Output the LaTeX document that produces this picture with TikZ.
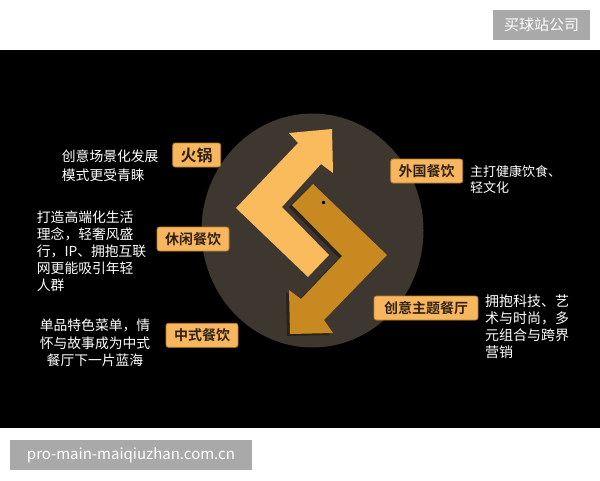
\documentclass[tikz,border=0pt]{standalone}
\usepackage{fontspec}
\newfontfamily\cjk{Noto Sans CJK SC}[BoldFont={Noto Sans CJK SC Bold}]
\definecolor{circ}{RGB}{62,55,48}
\definecolor{lightarr}{RGB}{249,187,92}
\definecolor{darkarr}{RGB}{200,138,32}
\definecolor{shad}{RGB}{40,34,28}
\definecolor{lbl}{RGB}{248,183,94}
\definecolor{lbldraw}{RGB}{185,125,48}
\definecolor{lbltext}{RGB}{48,34,20}
\definecolor{wm}{RGB}{169,169,169}
\tikzset{
  lab/.style={draw=lbldraw, line width=0.8pt, fill=lbl, rounded corners=2.5pt,
    text=lbltext, font=\cjk\bfseries\fontsize{14}{14}\selectfont,
    minimum height=24pt, inner sep=0pt},
  desc/.style={text=white, inner sep=0pt, align=left, anchor=north west},
  wmark/.style={fill=wm, text=white, inner sep=0pt, minimum height=30pt,
    font=\cjk\fontsize{15}{15}\selectfont}
}
\begin{document}
\begin{tikzpicture}[x=1pt,y=-1pt]
\useasboundingbox (0,0) rectangle (600,480);
\fill[white] (0,0) rectangle (600,480);
\fill[black] (0,50) rectangle (600,428);
\fill[circ] (312.5,230.5) ellipse [x radius=111pt, y radius=117pt];
% light arrow
\fill[lightarr] (308,277) -- (236,208) -- (298,143) -- (289,133) -- (332,129)
  -- (333,173) -- (321,164) -- (282,207) -- (329,255) -- cycle;
% dark arrow shadow
\fill[shad, shift={(-3pt,-2pt)}] (292,205) -- (313,184) -- (387,255) -- (324,320)
  -- (333,333) -- (290,334) -- (289,290) -- (301,299) -- (342,256) -- cycle;
% dark arrow
\fill[darkarr] (292,205) -- (313,184) -- (387,255) -- (324,320) -- (333,333)
  -- (290,334) -- (289,290) -- (301,299) -- (342,256) -- cycle;
\fill[black] (321.5,200.5) rectangle (324.5,203.5);
% labels
\node[lab, minimum width=48pt, font=\cjk\bfseries\fontsize{16}{16}\selectfont] (hg) at (196.7,155) {火锅};
\node[lab, minimum width=72pt] (xx) at (193,239) {休闲餐饮};
\node[lab, minimum width=72pt] (zs) at (202,335.3) {中式餐饮};
\node[lab, minimum width=72pt] (wg) at (426.7,171) {外国餐饮};
\node[lab, minimum width=104pt] (cy) at (426,308) {创意主题餐厅};
% descriptions
\node[desc, font=\cjk\fontsize{13.8}{18.3}\selectfont] (d1) at (61.7,150) {创意场景化发展\\模式更受青睐};
\node[desc, font=\cjk\fontsize{13.8}{17}\selectfont] (d2) at (36.7,211) {打造高端化生活\\理念，轻奢风盛\\行，IP、拥抱互联\\网更能吸引年轻\\人群};
\node[desc, align=center, anchor=north, font=\cjk\fontsize{13.8}{17.8}\selectfont] (d3) at (95,318.5) {单品特色菜单，情\\怀与故事成为中式\\餐厅下一片蓝海};
\node[desc, font=\cjk\fontsize{13}{15.5}\selectfont] (d4) at (470,165.5) {主打健康饮食、\\轻文化};
\node[desc, font=\cjk\fontsize{14}{17}\selectfont] (d5) at (485,295) {拥抱科技、艺\\术与时尚，多\\元组合与跨界\\营销};
% watermarks
\node[wmark, minimum width=97pt] (wm1) at (541.5,25) {买球站公司};
\node[wmark, minimum width=242pt] (wm2) at (131,455) {pro-main-maiqiuzhan.com.cn};
\end{tikzpicture}
\end{document}
